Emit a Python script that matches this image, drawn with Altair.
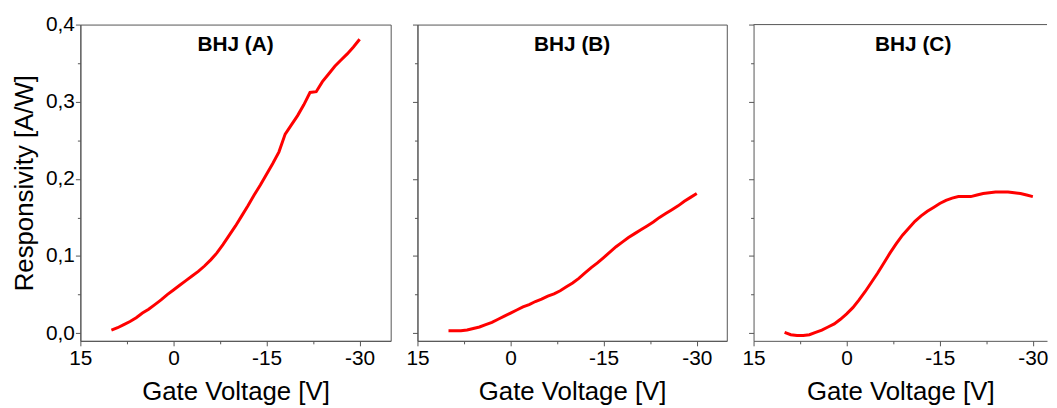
import altair as alt
import pandas as pd

# ---- data ----
volts = [10, 9, 8, 7, 6, 5, 4, 3, 2, 1, 0, -1, -2, -3, -4, -5, -6, -7, -8, -9, -10,
         -11, -12, -13, -14, -15, -16, -17, -18, -19, -20, -21, -22, -23, -24, -25,
         -26, -27, -28, -29, -30]
resp_a = [0.004, 0.007, 0.011, 0.015, 0.020, 0.026, 0.031, 0.037, 0.043, 0.050, 0.056,
          0.062, 0.068, 0.074, 0.080, 0.087, 0.095, 0.104, 0.115, 0.127, 0.139,
          0.152, 0.165, 0.179, 0.192, 0.206, 0.220, 0.235, 0.258, 0.270, 0.282,
          0.296, 0.312, 0.313, 0.326, 0.336, 0.346, 0.354, 0.362, 0.371, 0.381]
resp_b = [0.003, 0.003, 0.003, 0.004, 0.006, 0.008, 0.011, 0.014, 0.018, 0.022, 0.026,
          0.030, 0.034, 0.037, 0.041, 0.044, 0.048, 0.051, 0.055, 0.060, 0.065,
          0.071, 0.078, 0.085, 0.091, 0.098, 0.105, 0.112, 0.118, 0.124, 0.129,
          0.134, 0.139, 0.144, 0.150, 0.155, 0.160, 0.165, 0.171, 0.176, 0.181]
resp_c = [0.001, -0.002, -0.003, -0.003, -0.002, 0.001, 0.004, 0.008, 0.012, 0.018, 0.025,
          0.033, 0.043, 0.054, 0.066, 0.078, 0.091, 0.104, 0.116, 0.127, 0.136,
          0.145, 0.152, 0.158, 0.163, 0.168, 0.172, 0.175, 0.177, 0.177, 0.177,
          0.179, 0.181, 0.182, 0.183, 0.183, 0.183, 0.182, 0.181, 0.179, 0.177]
panel_titles = ["BHJ (A)", "BHJ (B)", "BHJ (C)"]
x_ticks = [15, 7.5, 0, -7.5, -15, -22.5, -30]
y_ticks = [0, 0.05, 0.1, 0.15, 0.2, 0.25, 0.3, 0.35, 0.4]

FONT = "Liberation Sans"
AXC = "#555555"
H = 319

x_major = "abs(datum.value/15 - round(datum.value/15)) < 0.01"
y_major = "abs(datum.value*10 - round(datum.value*10)) < 0.01"


def panel(resp, title, width, x_end, first, text_x, open_right):
    df = pd.DataFrame({"v": volts, "r": resp})
    x = alt.X(
        "v:Q",
        scale=alt.Scale(domain=[15, x_end], nice=False, zero=False),
        axis=alt.Axis(
            values=x_ticks,
            labelExpr=f"{x_major} ? '' + datum.value : ''",
            tickSize={"condition": {"test": x_major, "value": 5}, "value": 3},
            labelFlush=False,
            labelPadding=2,
            titlePadding=10,
            title="Gate Voltage [V]",
        ),
    )
    yaxis_kw = dict(
        values=y_ticks,
        tickSize={"condition": {"test": y_major, "value": 5}, "value": 3},
        labelFlush=False,
        labelPadding=1,
    )
    if first:
        yaxis = alt.Axis(
            labelExpr=f"{y_major} ? replace(format(datum.value, '.1f'), '.', ',') : ''",
            title="Responsivity [A/W]",
            titlePadding=8,
            **yaxis_kw,
        )
    else:
        yaxis = alt.Axis(labels=False, title=None, **yaxis_kw)
    y = alt.Y("r:Q", scale=alt.Scale(domain=[-0.01, 0.4], nice=False, zero=False), axis=yaxis)

    line = alt.Chart(df).mark_line(color="#ff0000", strokeWidth=3).encode(x=x, y=y)
    tdf = pd.DataFrame({"t": [title]})
    txt = alt.Chart(tdf).mark_text(
        font=FONT, fontSize=21, fontWeight="bold", baseline="alphabetic", align="center", color="black"
    ).encode(x=alt.value(text_x), y=alt.value(27), text="t:N")
    layers = [line, txt]
    if open_right:
        top = alt.Chart(tdf).mark_rule(color=AXC, strokeWidth=1).encode(
            x=alt.value(0), x2=alt.value(width), y=alt.value(0)
        )
        layers.append(top)
    ch = alt.layer(*layers).properties(width=width, height=H)
    if open_right:
        ch = ch.properties(view=alt.ViewBackground(stroke="transparent"))
    return ch


wa, wb, wc = 313, 312, 296
px_per_v = 313 / 50.0
a = panel(resp_a, panel_titles[0], wa, -35, True, wa / 2, False)
b = panel(resp_b, panel_titles[1], wb, 15 - wb / px_per_v, False, wb / 2, False)
c = panel(resp_c, panel_titles[2], wc, 15 - wc / px_per_v, False, 161, True)

chart = (
    alt.hconcat(a, b, c, spacing=27, bounds="flush")
    .properties(padding={"left": 3, "top": 3, "right": 0, "bottom": 0})
    .configure_view(stroke=AXC, strokeWidth=1)
    .configure_axis(
        labelFont=FONT,
        titleFont=FONT,
        labelFontSize=21,
        titleFontSize=26,
        titleFontWeight="normal",
        labelColor="black",
        titleColor="black",
        domainColor=AXC,
        tickColor=AXC,
        grid=False,
    )
)

chart.save("out.html", embed_options={"renderer": "svg", "actions": False})
